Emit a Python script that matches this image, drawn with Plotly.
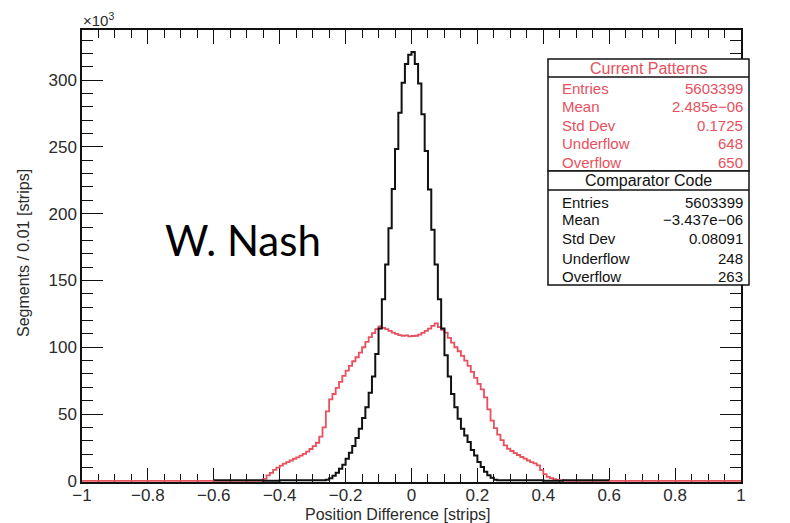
import numpy as np
import plotly.graph_objects as go

# ---------------- data (counts in thousands, bin width 0.01 strips) ----------------
bin_width = 0.01
x_min, x_max = -1.0, 1.0

# Comparator Code (black): bins starting at -0.60
black_start = -0.60
black_counts = [
    0.5, 0.5, 0.5, 0.5, 0.5, 0.5, 0.5, 0.5, 0.5, 0.5, 0.5, 0.5, 0.5, 0.5, 0.5,   # -0.60 .. -0.45
    0.0, 0.0, 0.0, 0.0, 0.0,                                                      # -0.45 .. -0.40
    0.4, 0.4, 0.4, 0.4, 0.4, 0.4, 0.4, 0.4, 0.5, 0.5, 0.5, 0.5, 0.5,              # -0.40 .. -0.27
    0.4, 0.8, 2.0, 3.8, 6.0, 9.0, 12.0, 16.5, 21.0, 26.0, 32.0, 39.0, 47.0, 55.0,
    66.0, 78.0, 95.0, 114.0, 136.0, 162.0, 189.0, 218.5, 248.5, 275.6, 298.0,
    312.0, 319.0,                                                                 # -0.27 .. 0
    321.0, 312.0, 297.5, 274.5, 247.0, 218.0, 188.0, 162.0, 136.0, 114.0, 94.0,
    78.0, 65.0, 55.0, 46.5, 39.0, 34.0, 29.0, 23.0, 19.0, 14.0, 10.4, 6.7, 4.2,
    2.2, 0.8, 0.5,                                                                # 0 .. 0.27
    0.5, 0.5, 0.5, 0.4, 0.4, 0.4, 0.4, 0.4, 0.4, 0.4, 0.4, 0.4, 0.4,              # 0.27 .. 0.40
    0.0, 0.0, 0.0, 0.0, 0.0, 0.0,                                                 # 0.40 .. 0.46
    0.5, 0.5, 0.5, 0.5, 0.5, 0.5, 0.5, 0.5, 0.5, 0.5, 0.5, 0.5, 0.5, 0.5,         # 0.46 .. 0.60
]

# Current Patterns (red): bins starting at -0.45
red_start = -0.45
red_counts = [
    1.5, 4.0, 6.0, 8.2, 9.8, 11.3, 12.8, 14.0, 15.2, 16.5, 17.6, 18.8, 20.2, 21.8,
    23.8, 26.0, 28.5, 33.0, 40.0, 52.0, 61.0, 65.0, 69.5, 74.0, 78.5, 82.5, 86.0,
    89.5, 92.5, 96.0, 100.0, 104.0, 107.5, 110.5, 113.5,                          # -0.45 .. -0.10
    115.6, 114.5, 113.5, 112.3, 111.0, 110.0, 109.0, 108.6, 108.8, 108.2, 108.4,
    108.6, 109.5, 110.8, 112.3, 114.0, 116.0, 117.8,                              # -0.10 .. 0.08
    115.0, 113.0, 111.0, 107.0, 103.5, 100.0, 97.0, 93.5, 90.0, 86.0, 81.5, 77.0,
    72.5, 68.5, 62.5, 53.5, 45.0, 39.5, 34.5, 30.5, 26.5, 24.0, 22.3, 20.7, 19.3,
    17.8, 16.6, 15.2, 14.0, 13.0, 11.5, 8.0, 5.0, 3.0, 2.0, 1.3, 0.7, 0.3, 0.2,   # 0.08 .. 0.47
]

x_ticks = [-1, -0.8, -0.6, -0.4, -0.2, 0, 0.2, 0.4, 0.6, 0.8, 1]
y_ticks = [0, 50, 100, 150, 200, 250, 300]

stat_labels = ["Entries", "Mean", "Std Dev", "Underflow", "Overflow"]
red_stats = ["5603399", "2.485e\u221206", "0.1725", "648", "650"]
black_stats = ["5603399", "\u22123.437e\u221206", "0.08091", "248", "263"]

RED = "#e8505e"
BLACK = "#111111"
TXT = "#2b2b2b"

# ---------------- build histogram outlines ----------------
n_bins = int(round((x_max - x_min) / bin_width))
edges = np.round(x_min + bin_width * np.arange(n_bins + 1), 4)

red_full = np.zeros(n_bins)
i0 = int(round((red_start - x_min) / bin_width))
red_full[i0:i0 + len(red_counts)] = red_counts

b0 = int(round((black_start - x_min) / bin_width))
black_edges = edges[b0:b0 + len(black_counts) + 1]
black_vals = np.array(black_counts)

fig = go.Figure()
fig.add_trace(go.Scatter(
    x=edges, y=np.append(red_full, red_full[-1]), mode="lines",
    line=dict(color=RED, width=1.8, shape="hv"), showlegend=False, hoverinfo="skip"))
fig.add_trace(go.Scatter(
    x=black_edges, y=np.append(black_vals, black_vals[-1]), mode="lines",
    line=dict(color=BLACK, width=2, shape="hv"), showlegend=False, hoverinfo="skip"))

# ---------------- layout ----------------
# page body has an 8px margin: figure drawn at (8, 8) in the window
OFF = 8
W, H = 790 - OFF, 523 - OFF
L, R, T, B = 82 - OFF, 741 - OFF, 30 - OFF, 482 - OFF   # plot-area edges in figure pixels


def px(xp):
    # xp given in window pixels
    return (xp - OFF - L) / (R - L)


def py(yp):
    return (B - (yp - OFF)) / (B - T)


tickfont = dict(family="Liberation Sans, Arial, sans-serif", size=17, color=TXT)

fig.update_layout(
    width=W, height=H,
    margin=dict(l=L, r=W - R, t=T, b=H - B, pad=0),
    paper_bgcolor="white", plot_bgcolor="white",
    xaxis=dict(
        range=[x_min, x_max], tickvals=x_ticks, ticks="inside", ticklen=14, tickwidth=1.3,
        tickcolor=BLACK, showline=True, linecolor=BLACK, linewidth=1.5, mirror="ticks",
        showgrid=False, zeroline=False, tickfont=tickfont, layer="below traces",
        ticklabelstandoff=-3,
        minor=dict(dtick=0.05, tick0=0, ticks="inside", ticklen=8, tickwidth=1.3,
                   tickcolor=BLACK, showgrid=False),
    ),
    yaxis=dict(
        range=[-0.9, 337.5], tickvals=y_ticks, ticks="inside", ticklen=21, tickwidth=1.3,
        tickcolor=BLACK, showline=True, linecolor=BLACK, linewidth=1.5, mirror="ticks",
        showgrid=False, zeroline=False, tickfont=tickfont, layer="below traces",
        minor=dict(dtick=10, tick0=0, ticks="inside", ticklen=11, tickwidth=1.3,
                   tickcolor=BLACK, showgrid=False),
    ),
)

ann = []
ann.append(dict(text="Position Difference [strips]", x=px(398), y=py(514), xref="paper", yref="paper",
                showarrow=False, xanchor="center", yanchor="middle",
                font=dict(family="Liberation Sans, Arial", size=16, color=TXT)))
ann.append(dict(text="Segments / 0.01 [strips]", x=px(23), y=py(253), xref="paper", yref="paper",
                showarrow=False, xanchor="center", yanchor="middle", textangle=-90,
                font=dict(family="Liberation Sans, Arial", size=16, color=TXT)))
ann.append(dict(text="\u00d710<sup>3</sup>", x=px(81), y=py(19), xref="paper", yref="paper",
                showarrow=False, xanchor="left", yanchor="middle",
                font=dict(family="Liberation Sans, Arial", size=15, color=TXT)))
ann.append(dict(text="W. Nash", x=px(243), y=py(240), xref="paper", yref="paper",
                showarrow=False, xanchor="center", yanchor="middle",
                font=dict(family="Lato, Open Sans, sans-serif", size=42, color="#000000")))

# stat boxes (window pixel geometry)
BX0, BX1 = 548, 749
boxes = [
    dict(top=59, sep=77, bottom=171, title="Current Patterns", color=RED,
         rows=[88, 106, 125, 144, 163], vals=red_stats),
    dict(top=171, sep=190, bottom=285, title="Comparator Code", color=BLACK,
         rows=[202, 219, 238, 258, 276], vals=black_stats),
]
shapes = []
for bx in boxes:
    shapes.append(dict(type="rect", xref="paper", yref="paper", x0=px(BX0), x1=px(BX1),
                       y0=py(bx["bottom"]), y1=py(bx["top"]), line=dict(color=BLACK, width=1.5),
                       fillcolor="white", layer="above"))
    shapes.append(dict(type="line", xref="paper", yref="paper", x0=px(BX0), x1=px(BX1),
                       y0=py(bx["sep"]), y1=py(bx["sep"]), line=dict(color=BLACK, width=1.5),
                       layer="above"))
    ann.append(dict(text=bx["title"], x=px((BX0 + BX1) / 2), y=py((bx["top"] + bx["sep"]) / 2),
                    xref="paper", yref="paper", showarrow=False, xanchor="center", yanchor="middle",
                    font=dict(family="Liberation Sans, Arial", size=16, color=bx["color"])))
    for lab, val, yy in zip(stat_labels, bx["vals"], bx["rows"]):
        ann.append(dict(text=lab, x=px(560), y=py(yy), xref="paper", yref="paper", showarrow=False,
                        xanchor="left", yanchor="middle",
                        font=dict(family="Liberation Sans, Arial", size=15, color=bx["color"])))
        ann.append(dict(text=val, x=px(745), y=py(yy), xref="paper", yref="paper", showarrow=False,
                        xanchor="right", yanchor="middle",
                        font=dict(family="Liberation Sans, Arial", size=15, color=bx["color"])))

fig.update_layout(annotations=ann, shapes=shapes)
fig.write_html("out.html")
